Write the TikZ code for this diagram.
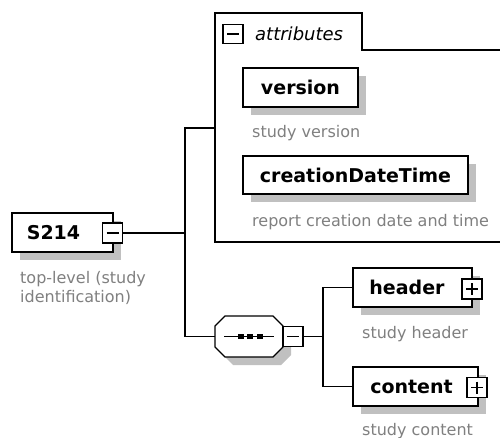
\documentclass[tikz,border=0pt]{standalone}
\usepackage{fontspec}
\setmainfont{DejaVu Sans}
\usetikzlibrary{shadows}
\definecolor{shadowgray}{RGB}{192,192,192}
\definecolor{descgray}{RGB}{128,128,128}
\tikzset{
  elem/.style={draw, line width=1.3pt, fill=white, inner sep=0pt,
    font=\bfseries\fontsize{19}{19}\selectfont, minimum height=39pt,
    drop shadow={shadow xshift=8pt, shadow yshift=-8pt, fill=shadowgray, opacity=1}},
  expander/.style={draw, line width=1.2pt, fill=white, inner sep=0pt,
    minimum width=20pt, minimum height=20pt},
  minusbox/.style={expander, path picture={
    \draw[line width=1.2pt] ([xshift=4pt]path picture bounding box.west) -- ([xshift=-4pt]path picture bounding box.east);}},
  plusbox/.style={expander, path picture={
    \draw[line width=1.2pt] ([xshift=4pt]path picture bounding box.west) -- ([xshift=-4pt]path picture bounding box.east);
    \draw[line width=1.2pt] ([yshift=-4pt]path picture bounding box.north) -- ([yshift=4pt]path picture bounding box.south);}},
  desc/.style={anchor=base west, text=descgray, inner sep=0pt, font=\fontsize{16}{19}\selectfont},
  conn/.style={line width=1.3pt},
}
\begin{document}
\begin{tikzpicture}[x=1pt,y=-1pt]
\useasboundingbox (0,0) rectangle (500,438);
\fill[white] (0,0) rectangle (500,438);

% attributes group
\draw[conn] (502,50) -- (362,50) -- (362,13) -- (215,13) -- (215,242) -- (502,242);
\coordinate (attr) at (215,128);
\node[minusbox, minimum height=19pt] (attrx) at (233,34) {};
\node[anchor=west, inner sep=0pt, font=\itshape\fontsize{18}{18}\selectfont] (attrl) at (255,34) {attributes};

\node[elem, minimum width=115pt] (version) at (300.5,87.5) {version};
\node[desc] (versiond) at (252,138) {study version};
\node[elem, minimum width=225pt, minimum height=38pt] (cdt) at (355.5,175) {creationDateTime};
\node[desc] (cdtd) at (252,226) {report creation date and time};

% root element
\node[elem, minimum width=101pt] (s214) at (62.5,232.5) {S214\hspace*{18pt}};
\node[minusbox] (s214x) at (112.5,233) {};
\node[desc] (s214d1) at (20,283) {top-level (study};
\node[desc] (s214d2) at (20,302) {identification)};

% sequence compositor
\node[inner sep=0pt, minimum width=68pt, minimum height=41pt] (seq) at (249,336.5) {};
\fill[shadowgray, shift={(8,8)}] (225,316) -- (273,316) -- (283,326) -- (283,347) -- (273,357) -- (225,357) -- (215,347) -- (215,326) -- cycle;
\draw[conn, fill=white] (225,316) -- (273,316) -- (283,326) -- (283,347) -- (273,357) -- (225,357) -- (215,347) -- (215,326) -- cycle;
\draw[conn] (224,336.5) -- (274,336.5);
\fill (237.5,334) rectangle (243.5,339);
\fill (247,334) rectangle (253,339);
\fill (256.5,334) rectangle (262.5,339);
\node[minusbox] (seqx) at (293,336.5) {};

% children
\node[elem, minimum width=119pt] (header) at (412.5,287.5) {header\hspace*{11pt}};
\node[plusbox] (headerx) at (472,289) {};
\node[desc] (headerd) at (362,338) {study header};
\node[elem, minimum width=125pt] (content) at (415.5,386.5) {content\hspace*{8pt}};
\node[plusbox] (contentx) at (477,387.5) {};
\node[desc] (contentd) at (362,435) {study content};

% connectors
\coordinate (j1) at (185,233);
\coordinate (j1t) at (185,128);
\coordinate (j1b) at (185,336.5);
\coordinate (j2) at (323,336.5);
\coordinate (j2t) at (323,287.5);
\coordinate (j2b) at (323,386.5);
\draw[conn] (s214x.east) -- (j1);
\draw[conn] (attr) -- (j1t) -- (j1b) -- (seq.west);
\draw[conn] (seqx.east) -- (j2);
\draw[conn] (header.west) -- (j2t) -- (j2b) -- (content.west);
\end{tikzpicture}
\end{document}
